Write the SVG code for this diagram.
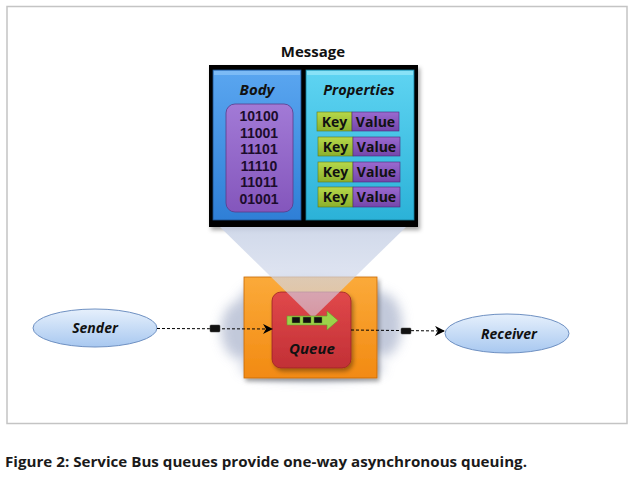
<svg xmlns="http://www.w3.org/2000/svg" width="636" height="482" viewBox="0 0 636 482">
<defs>
<linearGradient id="gBody" x1="0" y1="0" x2="0" y2="1"><stop offset="0" stop-color="#5aa6f0"/><stop offset="1" stop-color="#2f7fd6"/></linearGradient>
<linearGradient id="gProps" x1="0" y1="0" x2="0" y2="1"><stop offset="0" stop-color="#5fd4f2"/><stop offset="1" stop-color="#2bb2d8"/></linearGradient>
<linearGradient id="gPurple" x1="0" y1="0" x2="0" y2="1"><stop offset="0" stop-color="#a27ad6"/><stop offset="1" stop-color="#8456bc"/></linearGradient>
<linearGradient id="gKey" x1="0" y1="0" x2="0" y2="1"><stop offset="0" stop-color="#b6d84a"/><stop offset="1" stop-color="#8cb02c"/></linearGradient>
<linearGradient id="gVal" x1="0" y1="0" x2="0" y2="1"><stop offset="0" stop-color="#9a6ad0"/><stop offset="1" stop-color="#7446aa"/></linearGradient>
<linearGradient id="gOrange" x1="0" y1="0" x2="0" y2="1"><stop offset="0" stop-color="#fbaa3a"/><stop offset="1" stop-color="#f28a12"/></linearGradient>
<linearGradient id="gRed" x1="0" y1="0" x2="0" y2="1"><stop offset="0" stop-color="#e0484a"/><stop offset="1" stop-color="#c23036"/></linearGradient>
<linearGradient id="gEll" x1="0" y1="0" x2="0" y2="1"><stop offset="0" stop-color="#e6f0fc"/><stop offset="1" stop-color="#a8c8f0"/></linearGradient>
<linearGradient id="gBeam" x1="0" y1="0" x2="0" y2="1"><stop offset="0" stop-color="#c8d2e6" stop-opacity="0.85"/><stop offset="1" stop-color="#d6dcee" stop-opacity="0.55"/></linearGradient>
<filter id="blur" x="-30%" y="-30%" width="160%" height="160%"><feGaussianBlur stdDeviation="6"/></filter>
<filter id="shadow" x="-10%" y="-10%" width="130%" height="130%"><feDropShadow dx="2" dy="3" stdDeviation="2" flood-color="#000" flood-opacity="0.35"/></filter>
<marker id="arr" viewBox="0 0 10 10" refX="9" refY="5" markerWidth="10" markerHeight="10" markerUnits="userSpaceOnUse" orient="auto"><path d="M0,0 L10,5 L0,10 L3,5 Z" fill="#000"/></marker>
</defs>
<style>
.t{font-family:"Open Sans","Liberation Sans",Arial,sans-serif;font-weight:bold;fill:#111;text-anchor:middle}
.ti{font-style:italic}
.bin{font-family:"Liberation Sans",Arial,sans-serif;font-size:14px;fill:#1c0c2c}
.kv{font-size:14px}
.conn{stroke:#000;stroke-width:1;stroke-dasharray:3,2;fill:none}
.env{fill:#111;stroke:#444;stroke-width:0.5}
</style>
<rect x="0" y="0" width="636" height="482" fill="#fff"/>
<rect x="7" y="6.5" width="620" height="417" fill="#fff" stroke="#c4c4c4" stroke-width="1.5"/>

<g id="message">
<text class="t" x="313" y="57" font-size="15">Message</text>
<rect x="209" y="65" width="209" height="162" fill="#050505" filter="url(#shadow)"/>
<rect x="213" y="70" width="88" height="150" fill="url(#gBody)" stroke="#1d4f8c" stroke-width="0.8"/>
<rect x="214" y="71" width="86" height="4" fill="#8cc4f8" opacity="0.7"/>
<text class="t ti" x="257" y="95" font-size="15" fill="#0a1838">Body</text>
<rect x="226" y="104" width="67" height="108" rx="9" fill="url(#gPurple)" stroke="#5a3a88" stroke-width="0.8"/>
<text class="t bin" x="259" y="121">10100</text>
<text class="t bin" x="259" y="137.5">11001</text>
<text class="t bin" x="259" y="154">11101</text>
<text class="t bin" x="259" y="170.5">11110</text>
<text class="t bin" x="259" y="187">11011</text>
<text class="t bin" x="259" y="203.5">01001</text>
<rect x="306" y="70" width="108" height="150" fill="url(#gProps)" stroke="#167a98" stroke-width="0.8"/>
<rect x="307" y="71" width="106" height="4" fill="#9ae8fa" opacity="0.7"/>
<text class="t ti" x="359" y="95" font-size="14.5" fill="#0a1838">Properties</text>
<g>
<rect x="317" y="112" width="35" height="19" fill="url(#gKey)" stroke="#5f7a1a" stroke-width="0.6"/>
<rect x="352" y="112" width="47" height="19" fill="url(#gVal)" stroke="#4a2a78" stroke-width="0.6"/>
<text class="t kv" x="334.5" y="126.5">Key</text><text class="t kv" x="375.5" y="126.5">Value</text>
<rect x="318" y="137" width="35" height="19" fill="url(#gKey)" stroke="#5f7a1a" stroke-width="0.6"/>
<rect x="353" y="137" width="47" height="19" fill="url(#gVal)" stroke="#4a2a78" stroke-width="0.6"/>
<text class="t kv" x="335.5" y="151.5">Key</text><text class="t kv" x="376.5" y="151.5">Value</text>
<rect x="318" y="162" width="35" height="20" fill="url(#gKey)" stroke="#5f7a1a" stroke-width="0.6"/>
<rect x="353" y="162" width="47" height="20" fill="url(#gVal)" stroke="#4a2a78" stroke-width="0.6"/>
<text class="t kv" x="335.5" y="177">Key</text><text class="t kv" x="376.5" y="177">Value</text>
<rect x="318" y="187" width="35" height="20" fill="url(#gKey)" stroke="#5f7a1a" stroke-width="0.6"/>
<rect x="353" y="187" width="47" height="20" fill="url(#gVal)" stroke="#4a2a78" stroke-width="0.6"/>
<text class="t kv" x="335.5" y="202">Key</text><text class="t kv" x="376.5" y="202">Value</text>
</g>
</g>

<g id="queue">
<g filter="url(#blur)" fill="#b8c0d4" opacity="0.85">
<ellipse cx="243" cy="330" rx="22" ry="30"/>
<ellipse cx="382" cy="325" rx="20" ry="32"/>
<ellipse cx="312" cy="298" rx="72" ry="18"/>
<ellipse cx="312" cy="368" rx="72" ry="12"/>
</g>
<rect x="244" y="277" width="133" height="101" fill="url(#gOrange)" stroke="#c86a08" stroke-width="0.8" filter="url(#shadow)"/>
<rect x="272" y="292" width="79" height="76" rx="9" fill="url(#gRed)" stroke="#9a2226" stroke-width="0.8" filter="url(#shadow)"/>
<path d="M220,227 L406,227 L313,318 Z" fill="url(#gBeam)"/>
<path d="M287,316 L327,316 L327,311 L338,320.5 L327,330 L327,325 L287,325 Z" fill="#9cd24a" stroke="#6a9a2a" stroke-width="0.6"/>
<rect x="292" y="317" width="8" height="6" fill="#111" stroke="#6a9a2a" stroke-width="0.5"/>
<rect x="303" y="317" width="8" height="6" fill="#111" stroke="#6a9a2a" stroke-width="0.5"/>
<rect x="314" y="317" width="8" height="6" fill="#111" stroke="#6a9a2a" stroke-width="0.5"/>
<text class="t ti" x="312" y="354" font-size="15" fill="#1a0a0a">Queue</text>
</g>

<g id="sender">
<ellipse cx="95" cy="328" rx="62" ry="19" fill="url(#gEll)" stroke="#6e90c2" stroke-width="1"/>
<text class="t ti" x="95" y="333" font-size="14">Sender</text>
</g>

<g id="receiver">
<ellipse cx="507" cy="333.5" rx="62" ry="19.5" fill="url(#gEll)" stroke="#6e90c2" stroke-width="1"/>
<text class="t ti" x="509" y="338.5" font-size="14">Receiver</text>
</g>

<g id="connectors">
<path class="conn" d="M157,328.5 L272,329" marker-end="url(#arr)"/>
<rect class="env" x="210" y="325" width="10" height="7" rx="1"/>
<path class="conn" d="M351,330 L444,331" marker-end="url(#arr)"/>
<rect class="env" x="401" y="328" width="10" height="6" rx="1"/>
</g>

<text x="5" y="467" font-family="'Open Sans','Liberation Sans',sans-serif" font-weight="bold" font-size="13.5" fill="#1a1a1a" textLength="522" lengthAdjust="spacingAndGlyphs">Figure 2: Service Bus queues provide one-way asynchronous queuing.</text>
</svg>
